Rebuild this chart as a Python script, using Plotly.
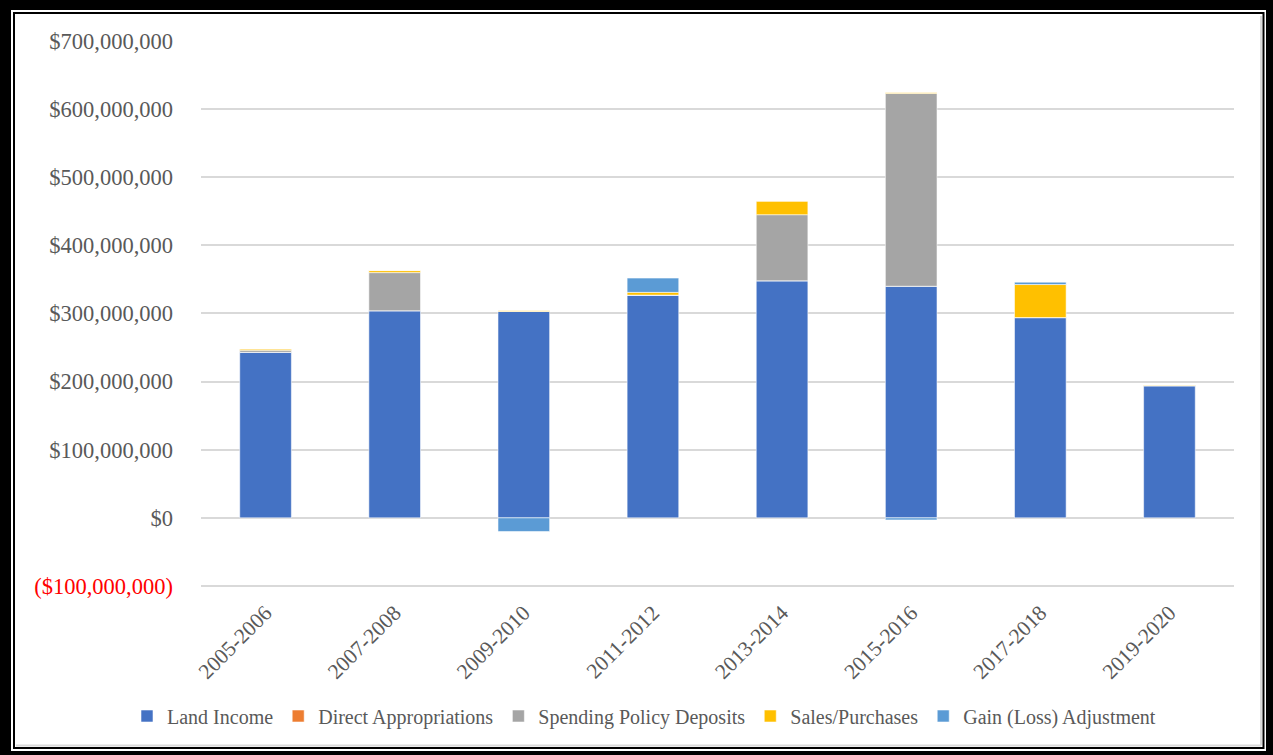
import plotly.graph_objects as go

# Biennium categories
periods = ["2005-2006", "2007-2008", "2009-2010", "2011-2012",
           "2013-2014", "2015-2016", "2017-2018", "2019-2020"]

# Component amounts per biennium (dollars)
land_income = [243e6, 304e6, 303e6, 327e6, 348e6, 340e6, 294e6, 194e6]
direct_appropriations = [0, 0, 0, 0, 0, 0, 0, 0]
spending_policy_deposits = [3e6, 56e6, 0, 0, 97e6, 283e6, 0, 0]
sales_purchases = [2e6, 3e6, 1e6, 4e6, 20e6, 1e6, 48.5e6, 1e6]
gain_loss_adjustment = [0, 0, -20e6, 21e6, 0, -3e6, 3.5e6, 0]

# Axis ticks
tick_values = [-100e6, 0, 100e6, 200e6, 300e6, 400e6, 500e6, 600e6, 700e6]
tick_labels = ['<span style="color:#FF0000">($100,000,000)</span>', "$0",
               "$100,000,000", "$200,000,000", "$300,000,000", "$400,000,000",
               "$500,000,000", "$600,000,000", "$700,000,000"]

series = [
    ("Land Income", land_income, "#4472C4"),
    ("Direct Appropriations", direct_appropriations, "#ED7D31"),
    ("Spending Policy Deposits", spending_policy_deposits, "#A5A5A5"),
    ("Sales/Purchases", sales_purchases, "#FFC000"),
    ("Gain (Loss) Adjustment", gain_loss_adjustment, "#5B9BD5"),
]

FONT = "Liberation Serif, Times New Roman, serif"
TEXT = "#595959"

fig = go.Figure()
for name, vals, color in series:
    fig.add_trace(go.Bar(
        name=name, x=periods, y=vals,
        marker=dict(color=color, line=dict(color="rgba(255,255,255,0.55)", width=1)),
    ))

W, H = 1273, 755
L, R, T, B = 201, 1234, 41, 587


def px(x):
    return (x - L) / (R - L)


def py(y):
    return (B - y) / (B - T)


shapes = []
# outer heavy frame
for x0, y0, x1, y1 in [(0, 0, 11, H), (0, 0, W, 10), (1266, 0, W, H), (0, 751, W, H)]:
    shapes.append(dict(type="rect", xref="paper", yref="paper",
                       x0=px(x0), x1=px(x1), y0=py(y0), y1=py(y1),
                       fillcolor="black", line=dict(width=0), layer="above"))
# inner thin frame
shapes.append(dict(type="rect", xref="paper", yref="paper",
                   x0=px(14), x1=px(1263.5), y0=py(13), y1=py(748),
                   line=dict(color="black", width=2), layer="above"))
# soft inner shadow along bottom and right edges
shapes.append(dict(type="line", xref="paper", yref="paper",
                   x0=px(16), x1=px(1261), y0=py(745.5), y1=py(745.5),
                   line=dict(color="#D9D9D9", width=2), layer="above"))
shapes.append(dict(type="line", xref="paper", yref="paper",
                   x0=px(1261), x1=px(1261), y0=py(16), y1=py(745.5),
                   line=dict(color="#D9D9D9", width=2), layer="above"))

fig.update_layout(
    width=W, height=H,
    margin=dict(l=L, r=W - R, t=T, b=H - B, pad=0, autoexpand=False),
    barmode="relative",
    bargap=0.6,
    paper_bgcolor="white",
    plot_bgcolor="rgba(0,0,0,0)",
    font=dict(family=FONT, color=TEXT, size=20),
    showlegend=True,
    legend=dict(orientation="h", xref="container", yref="container",
                x=644 / W, xanchor="center", y=1 - 716 / H, yanchor="middle",
                font=dict(family=FONT, size=20, color=TEXT),
                itemwidth=30, tracegroupgap=0, bgcolor="rgba(0,0,0,0)"),
    shapes=shapes,
)

fig.update_yaxes(
    range=[-101.5e6, 700e6], automargin=False,
    tickvals=tick_values, ticktext=tick_labels,
    showgrid=True, gridcolor="#D9D9D9", gridwidth=2,
    zeroline=True, zerolinecolor="#D9D9D9", zerolinewidth=2,
    showline=False, ticks="",
    ticklabelstandoff=27,
    tickfont=dict(family=FONT, size=22.5, color=TEXT),
)
fig.update_xaxes(
    automargin=False,
    tickangle=-45, showgrid=False, showline=False, ticks="",
    ticklabelstandoff=8,
    tickfont=dict(family=FONT, size=21.5, color=TEXT),
)

fig.write_html("out.html")
